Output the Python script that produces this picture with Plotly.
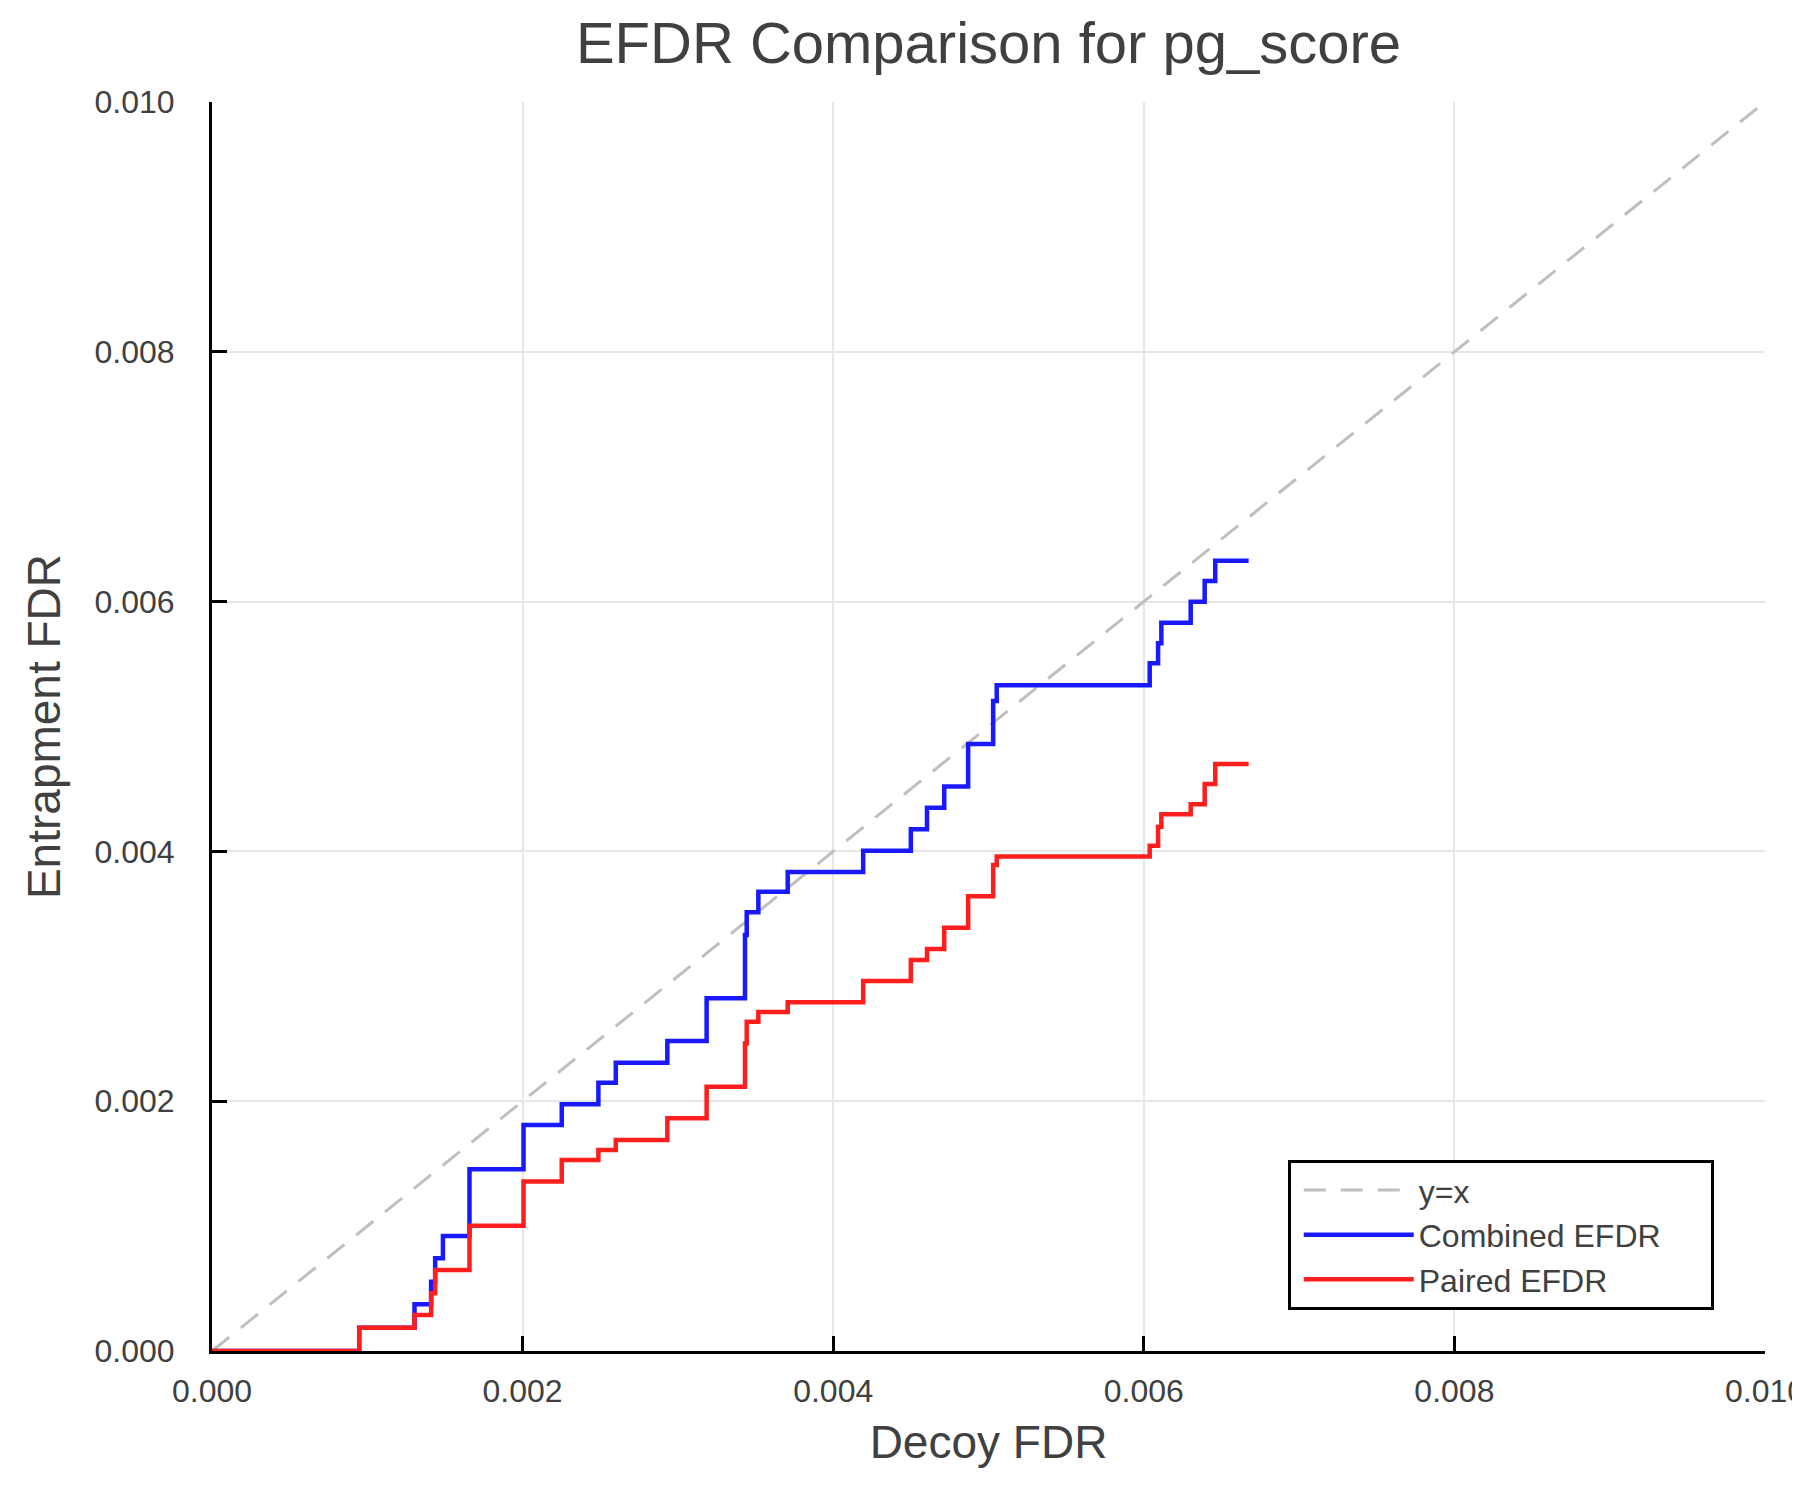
import plotly.graph_objects as go

# step points (decoy FDR where the step happens, EFDR after it)
decoy_fdr = [0, 0.000948, 0.001304, 0.001411, 0.001437, 0.001487, 0.001658,
             0.002006, 0.002252, 0.002488, 0.002600, 0.002932, 0.003185,
             0.003432, 0.003443, 0.003518, 0.003707, 0.004193, 0.004500,
             0.004604, 0.004715, 0.004869, 0.005030, 0.005053, 0.006038,
             0.006092, 0.006113, 0.006302, 0.006392, 0.006460, 0.006675]

combined_efdr = [0, 0.000187, 0.000374, 0.000555, 0.000742, 0.000921, 0.001455,
                 0.001810, 0.001975, 0.002148, 0.002308, 0.002482, 0.002824,
                 0.003330, 0.003512, 0.003677, 0.003835, 0.004005, 0.004177,
                 0.004350, 0.004520, 0.004860, 0.005204, 0.005330, 0.005506,
                 0.005666, 0.005831, 0.005999, 0.006165, 0.006327, 0.006327]

paired_efdr = [0, 0.000187, 0.000288, 0.000462, 0.000648, 0.000648, 0.001003,
               0.001358, 0.001529, 0.001609, 0.001689, 0.001863, 0.002116,
               0.002462, 0.002637, 0.002714, 0.002792, 0.002962, 0.003130,
               0.003219, 0.003389, 0.003641, 0.003891, 0.003960, 0.004046,
               0.004198, 0.004297, 0.004377, 0.004540, 0.004700, 0.004700]

diag = [0, 0.01]
tick_vals = [0, 0.002, 0.004, 0.006, 0.008, 0.010]
tick_text = ["0.000", "0.002", "0.004", "0.006", "0.008", "0.010"]

fonte = "Liberation Sans, Arial, sans-serif"
cinza = "#404040"
pad = "\u00a0" * 5  # espaco extra a direita na legenda

fig = go.Figure()

fig.add_trace(go.Scatter(
    x=diag, y=diag, mode="lines", name="y=x",
    line=dict(color="#bfbfbf", width=3, dash="22px,15px")
))

fig.add_trace(go.Scatter(
    x=decoy_fdr, y=combined_efdr, mode="lines", name="Combined EFDR" + pad,
    line=dict(color="rgb(25,25,255)", width=4.5, shape="hv")
))

fig.add_trace(go.Scatter(
    x=decoy_fdr, y=paired_efdr, mode="lines", name="Paired EFDR",
    line=dict(color="rgb(255,30,30)", width=4.5, shape="hv")
))

eixo = dict(
    range=[0, 0.010],
    tickvals=tick_vals,
    ticktext=tick_text,
    automargin=False,
    showgrid=True,
    gridcolor="#e6e6e6",
    gridwidth=1.5,
    zeroline=False,
    showline=True,
    linecolor="black",
    linewidth=3,
    mirror=False,
    ticks="inside",
    ticklen=15,
    tickwidth=3,
    tickcolor="black",
    ticklabeloverflow="allow",
    tickfont=dict(family=fonte, size=32, color=cinza),
)

fig.update_layout(
    width=1800,
    height=1500,
    paper_bgcolor="white",
    plot_bgcolor="white",
    margin=dict(l=204, r=43, t=94, b=157, autoexpand=False),
    title=dict(
        text="EFDR Comparison for pg_score",
        x=0.5, xref="paper",
        y=1 - 35 / 1500, yref="container", yanchor="middle",
        font=dict(family=fonte, size=58, color=cinza)
    ),
    xaxis=dict(eixo, ticklabelstandoff=10,
               title=dict(text="Decoy FDR", standoff=18,
                          font=dict(family=fonte, size=46, color=cinza))),
    yaxis=dict(eixo, ticklabelstandoff=28,
               title=dict(text="Entrapment FDR", standoff=20,
                          font=dict(family=fonte, size=46, color=cinza))),
    legend=dict(
        x=0.967, y=0.033, xanchor="right", yanchor="bottom",
        bgcolor="white",
        bordercolor="black",
        borderwidth=3,
        itemwidth=110,
        indentation=8,
        font=dict(family=fonte, size=32, color=cinza),
    ),
    showlegend=True,
)

fig.write_html("out.html")
